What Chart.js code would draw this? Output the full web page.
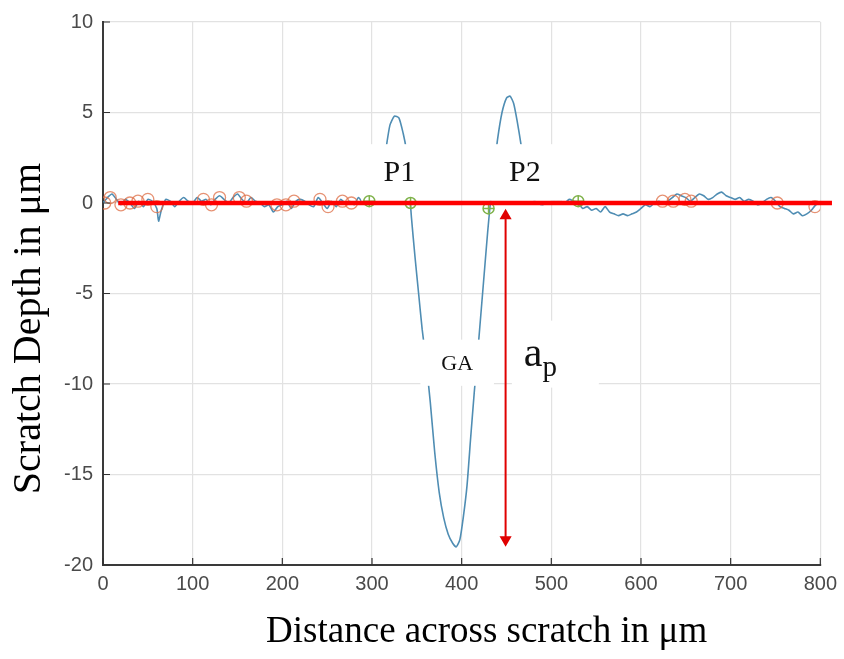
<!DOCTYPE html>
<html>
<head>
<meta charset="utf-8">
<script src="https://cdn.jsdelivr.net/npm/chart.js@4"></script>
<style>
  html, body { margin: 0; padding: 0; background: #fff; }
  canvas { display: block; }
</style>
</head>
<body>
<canvas id="chart" width="844" height="659"></canvas>
<script>
// ---------------------------
// Data
// ---------------------------
const distance = [
  0, 5, 10, 15, 20, 25, 30, 35, 40, 45, 50, 55, 60, 62, 65, 70, 75, 80, 85, 90, 95,
  100, 105, 110, 115, 120, 125, 130, 135, 140, 145, 150, 155, 160, 165, 170, 175, 180, 185, 190, 195,
  200, 205, 210, 215, 220, 225, 230, 235, 240, 245, 250, 255, 260, 265, 270, 275, 280, 285, 290, 295,
  300, 305, 310, 315, 320, 325, 330, 335, 338, 341, 344, 348, 352, 356, 360, 365, 370, 375, 380, 385, 390, 394, 398,
  402, 406, 410, 414, 418, 422, 426, 429, 432, 436, 440, 445, 450, 454, 458, 462, 466, 470, 475, 480, 485, 490, 495,
  500, 505, 510, 515, 520, 525, 530, 535, 540, 545, 550, 555, 560, 565, 570, 575, 580, 585, 590, 595,
  600, 605, 610, 615, 620, 625, 630, 635, 640, 645, 650, 655, 660, 665, 670, 675, 680, 685, 690, 695,
  700, 705, 710, 715, 720, 725, 730, 735, 740, 745, 750, 755, 760, 765, 770, 775, 780, 785, 790, 795, 800
];
const depth = [
  0.0, 0.3, 0.5, 0.2, -0.1, 0.2, 0.0, -0.3, 0.1, -0.2, 0.2, 0.1, -0.3, -1.0, -0.4, 0.2, 0.1, -0.2, 0.1, 0.3, 0.1,
  0.0, 0.3, 0.1, 0.2, -0.1, 0.2, 0.4, 0.2, 0.0, 0.3, 0.5, 0.2, 0.0, 0.3, 0.1, 0.0, -0.2, -0.1, -0.5, -0.2,
  -0.1, 0.1, -0.3, 0.1, 0.2, 0.1, -0.1, -0.2, 0.3, 0.0, -0.3, 0.1, -0.2, 0.2, 0.0, 0.1, -0.1, 0.3, 0.0, 0.1,
  0.0, 0.4, 1.2, 2.8, 4.3, 4.8, 4.7, 3.8, 3.0, 1.2, -0.8, -3.0, -5.0, -7.0, -8.6, -11.0, -13.8, -16.0, -17.4, -18.3, -18.8, -19.0, -18.6,
  -17.3, -15.6, -13.0, -10.5, -8.2, -5.8, -3.4, -1.6, 0.0, 1.8, 3.5, 5.0, 5.8, 5.9, 5.5, 4.5, 3.3, 2.0, 0.8, 0.2, 0.0, -0.1, 0.0,
  0.1, 0.1, 0.1, 0.0, 0.2, 0.1, 0.0, -0.3, -0.2, -0.4, -0.3, -0.5, -0.2, -0.5, -0.6, -0.7, -0.6, -0.7, -0.6, -0.5,
  -0.3, -0.1, -0.2, 0.0, 0.1, 0.0, 0.1, 0.3, 0.5, 0.4, 0.3, 0.1, 0.3, 0.5, 0.4, 0.2, 0.3, 0.5, 0.6, 0.4,
  0.3, 0.2, 0.3, 0.1, 0.2, 0.1, -0.1, 0.0, 0.2, 0.3, 0.1, -0.2, -0.3, -0.4, -0.6, -0.5, -0.7, -0.6, -0.4, -0.1, 0.0
];

// detected roughness points (orange) and edge points (green)
const roughX = [2, 8, 20, 30, 39, 50, 60, 112, 121, 130, 152, 160, 194, 204, 213, 242, 251, 267, 277, 624, 636, 649, 656, 752, 794];
const roughY = [0.0, 0.3, -0.1, 0.0, 0.1, 0.2, -0.2, 0.2, -0.1, 0.3, 0.3, 0.1, -0.1, -0.1, 0.1, 0.2, -0.2, 0.1, 0.0, 0.1, 0.1, 0.2, 0.1, 0.0, -0.2];
const edgeX = [297, 343, 430, 530];
const edgeY = [0.1, 0.0, -0.3, 0.1];

// reference (surface) line and depth arrow
const refLineX = [17, 813];
const refLineY = [0, 0];
const arrowX = [449, 449];
const arrowY = [-0.7, -18.6];

// tick values
const xTicks = [0, 100, 200, 300, 400, 500, 600, 700, 800];
const yTicks = [-20, -15, -10, -5, 0, 5, 10];

const xTitle = "Distance across scratch in \u03bcm";
const yTitle = "Scratch Depth in \u03bcm";

// ---------------------------
// Helpers
// ---------------------------
function zipXY(xs, ys) {
    return xs.map((x, i) => ({ x: x, y: ys[i] }));
}

const SERIF = "'Liberation Serif', 'Times New Roman', serif";
const SANS = "'Liberation Sans', Arial, sans-serif";

// white label boxes over the plot (data coords)
const labelBoxes = [
    { x0: 288, x1: 373, y0: 3.25, y1: 0.12, text: "P1", size: 30 },
    { x0: 430, x1: 511, y0: 3.25, y1: 0.12, text: "P2", size: 30 },
    { x0: 354, x1: 436, y0: -7.55, y1: -10.1, text: "GA", size: 22 },
    { x0: 456, x1: 553, y0: -6.5, y1: -10.2, text: "a", sub: "p", size: 42 }
];

const labelPlugin = {
    id: "labelBoxes",
    afterDatasetDraw(chart, args) {
        if (args.index !== 0) return;
        const ctx = chart.ctx;
        const xs = chart.scales.x, ys = chart.scales.y;
        ctx.save();
        labelBoxes.forEach(b => {
            const l = xs.getPixelForValue(b.x0), r = xs.getPixelForValue(b.x1);
            const t = ys.getPixelForValue(b.y0), bt = ys.getPixelForValue(b.y1);
            ctx.fillStyle = "#fff";
            ctx.fillRect(l, t, r - l, bt - t);
            ctx.fillStyle = "#111";
            ctx.textBaseline = "middle";
            const cx = (l + r) / 2, cy = (t + bt) / 2;
            if (b.sub) {
                ctx.font = b.size + "px " + SERIF;
                ctx.textAlign = "left";
                const w = ctx.measureText(b.text).width;
                ctx.textBaseline = "alphabetic";
                ctx.fillText(b.text, l + 12, cy + 12);
                ctx.font = Math.round(b.size * 0.68) + "px " + SERIF;
                ctx.fillText(b.sub, l + 12 + w, cy + 22);
            } else {
                ctx.font = b.size + "px " + SERIF;
                ctx.textAlign = "center";
                ctx.fillText(b.text, cx, cy + 1);
            }
        });
        ctx.restore();
    },
    afterDraw(chart) {
        const ctx = chart.ctx;
        const a = chart.chartArea;
        const xs = chart.scales.x, ys = chart.scales.y;
        ctx.save();
        // inward tick marks (matlab style)
        ctx.strokeStyle = "#333";
        ctx.lineWidth = 1.2;
        ctx.beginPath();
        xTicks.forEach(v => {
            const px = xs.getPixelForValue(v);
            ctx.moveTo(px, a.bottom);
            ctx.lineTo(px, a.bottom - 7);
        });
        yTicks.forEach(v => {
            const py = ys.getPixelForValue(v);
            ctx.moveTo(a.left, py);
            ctx.lineTo(a.left + 7, py);
        });
        ctx.stroke();

        // axis titles
        ctx.fillStyle = "#000";
        ctx.font = "37px " + SERIF;
        ctx.textAlign = "center";
        ctx.textBaseline = "middle";
        ctx.fillText(xTitle, (a.left + a.right) / 2 + 25, 632);
        ctx.font = "40px " + SERIF;
        ctx.translate(29, (a.top + a.bottom) / 2 + 35);
        ctx.rotate(-Math.PI / 2);
        ctx.fillText(yTitle, 0, 0);
        ctx.restore();
    }
};

// ---------------------------
// Chart
// ---------------------------
const ctx = document.getElementById("chart").getContext("2d");

new Chart(ctx, {
    type: "scatter",
    data: {
        datasets: [
            {
                label: "profile",
                data: zipXY(distance, depth),
                showLine: true,
                borderColor: "#4f8db3",
                borderWidth: 1.6,
                pointRadius: 0,
                tension: 0.2,
                order: 6
            },
            {
                label: "roughness",
                data: zipXY(roughX, roughY),
                showLine: false,
                pointStyle: "circle",
                pointRadius: 6,
                borderColor: "rgba(222,110,70,0.75)",
                backgroundColor: "rgba(0,0,0,0)",
                borderWidth: 1.3,
                order: 5
            },
            {
                label: "edges",
                data: zipXY(edgeX, edgeY),
                showLine: false,
                pointStyle: "circle",
                pointRadius: 5.5,
                borderColor: "#7fb24a",
                backgroundColor: "rgba(0,0,0,0)",
                borderWidth: 1.5,
                order: 4
            },
            {
                label: "edges cross",
                data: zipXY(edgeX, edgeY),
                showLine: false,
                pointStyle: "cross",
                pointRadius: 5.5,
                borderColor: "#7fb24a",
                borderWidth: 1.5,
                order: 3
            },
            {
                label: "reference",
                data: zipXY(refLineX, refLineY),
                showLine: true,
                borderColor: "#ff0000",
                borderWidth: 4.5,
                pointRadius: 0,
                clip: false,
                order: 2
            },
            {
                label: "depth",
                data: zipXY(arrowX, arrowY),
                showLine: true,
                borderColor: "#e00000",
                backgroundColor: "#e00000",
                borderWidth: 2,
                pointStyle: "triangle",
                pointRadius: 5,
                pointRotation: [0, 180],
                order: 1
            }
        ]
    },
    options: {
        responsive: false,
        animation: false,
        devicePixelRatio: 1,
        layout: { padding: { top: 18, right: 21, left: 0, bottom: 0 } },
        plugins: {
            legend: { display: false },
            tooltip: { enabled: false }
        },
        scales: {
            x: {
                type: "linear",
                min: 0,
                max: 800,
                afterBuildTicks: s => { s.ticks = xTicks.map(v => ({ value: v })); },
                afterFit: s => { s.height = 94; },
                ticks: {
                    font: { family: SANS, size: 20 },
                    color: "#4a4a4a",
                    padding: 7,
                    maxRotation: 0
                },
                grid: { color: "#e2e2e2", lineWidth: 1.2, drawTicks: false },
                border: { color: "#3a3a3a", width: 2 }
            },
            y: {
                type: "linear",
                min: -20,
                max: 10,
                afterBuildTicks: s => { s.ticks = yTicks.map(v => ({ value: v })); },
                afterFit: s => { s.width = 103; },
                ticks: {
                    font: { family: SANS, size: 20 },
                    color: "#4a4a4a",
                    padding: 10
                },
                grid: { color: "#e2e2e2", lineWidth: 1.2, drawTicks: false },
                border: { color: "#3a3a3a", width: 2 }
            }
        }
    },
    plugins: [labelPlugin]
});
</script>
</body>
</html>
